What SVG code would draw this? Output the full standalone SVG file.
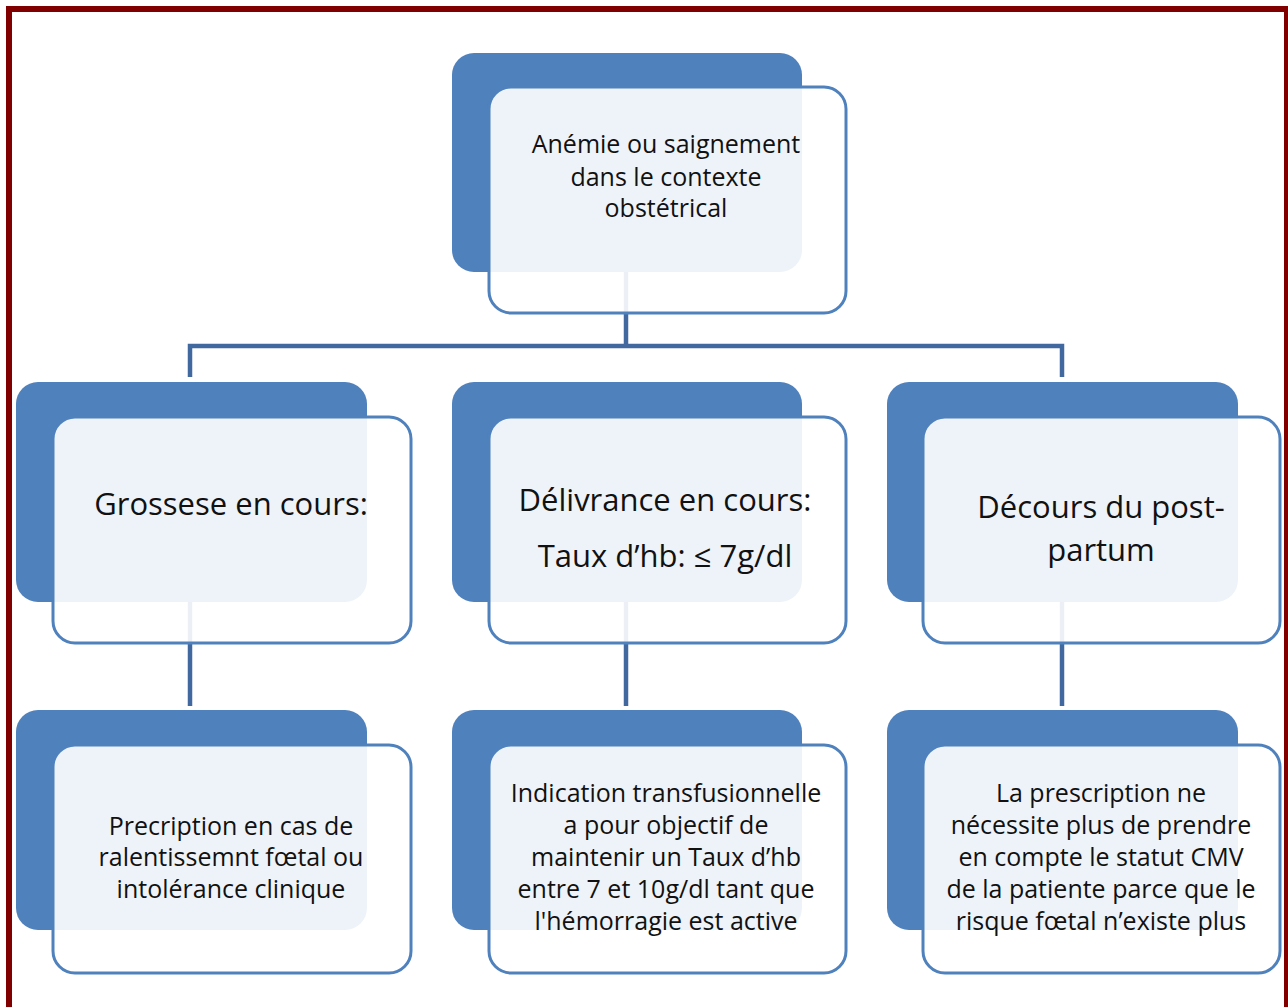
<svg xmlns="http://www.w3.org/2000/svg" width="1288" height="1007" viewBox="0 0 1288 1007">
<style>
.back{fill:#4f81bd}
.front{fill:#ffffff;fill-opacity:0.9;stroke:#4f81bd;stroke-width:3}
.conn{fill:none;stroke:#41699f;stroke-width:4.5}
text{font-family:"Open Sans","Liberation Sans",sans-serif;fill:#111;text-anchor:middle}
.t1{font-size:25px}
.t2{font-size:31px}
.t3{font-size:25px}
</style>
<rect x="0" y="0" width="1288" height="1007" fill="#ffffff"/>
<rect x="9" y="9" width="1278" height="1010" fill="none" stroke="#800000" stroke-width="6"/>
<g id="connectors">
<path class="conn" d="M626,272 V346 M190,377 V346 H1062 V377"/>
<path class="conn" d="M190,602 V706"/>
<path class="conn" d="M626,602 V706"/>
<path class="conn" d="M1062,602 V706"/>
</g>
<g id="n-top">
<rect class="back" x="452" y="53" width="350" height="219" rx="22"/>
<rect class="front" x="489" y="87" width="357" height="226" rx="22"/>
<text class="t1" x="666" y="153">Anémie ou saignement</text>
<text class="t1" x="666" y="186">dans le contexte</text>
<text class="t1" x="666" y="217">obstétrical</text>
</g>
<g id="n-grossesse">
<rect class="back" x="16" y="382" width="351" height="220" rx="22"/>
<rect class="front" x="53" y="417" width="358" height="226" rx="22"/>
<text class="t2" x="231" y="515">Grossese en cours:</text>
</g>
<g id="n-delivrance">
<rect class="back" x="452" y="382" width="350" height="220" rx="22"/>
<rect class="front" x="489" y="417" width="357" height="226" rx="22"/>
<text class="t2" x="665" y="511">Délivrance en cours:</text>
<text class="t2" x="665" y="567">Taux d’hb: ≤ 7g/dl</text>
</g>
<g id="n-postpartum">
<rect class="back" x="887" y="382" width="351" height="220" rx="22"/>
<rect class="front" x="923" y="417" width="357" height="226" rx="22"/>
<text class="t2" x="1101" y="518">Décours du post-</text>
<text class="t2" x="1101" y="561">partum</text>
</g>
<g id="n-precription">
<rect class="back" x="16" y="710" width="351" height="220" rx="22"/>
<rect class="front" x="53" y="745" width="358" height="228" rx="22"/>
<text class="t3" x="231" y="835">Precription en cas de</text>
<text class="t3" x="231" y="866">ralentissemnt fœtal ou</text>
<text class="t3" x="231" y="898">intolérance clinique</text>
</g>
<g id="n-indication">
<rect class="back" x="452" y="710" width="350" height="220" rx="22"/>
<rect class="front" x="489" y="745" width="357" height="228" rx="22"/>
<text class="t3" x="666" y="802">Indication transfusionnelle</text>
<text class="t3" x="666" y="834">a pour objectif de</text>
<text class="t3" x="666" y="866">maintenir  un Taux d’hb</text>
<text class="t3" x="666" y="898">entre 7 et 10g/dl tant que</text>
<text class="t3" x="666" y="930">l'hémorragie est active</text>
</g>
<g id="n-cmv">
<rect class="back" x="887" y="710" width="351" height="220" rx="22"/>
<rect class="front" x="923" y="745" width="357" height="228" rx="22"/>
<text class="t3" x="1101" y="802">La prescription ne</text>
<text class="t3" x="1101" y="834">nécessite plus de prendre</text>
<text class="t3" x="1101" y="866">en compte le statut CMV</text>
<text class="t3" x="1101" y="898">de la patiente parce que le</text>
<text class="t3" x="1101" y="930">risque fœtal n’existe plus</text>
</g>
</svg>
